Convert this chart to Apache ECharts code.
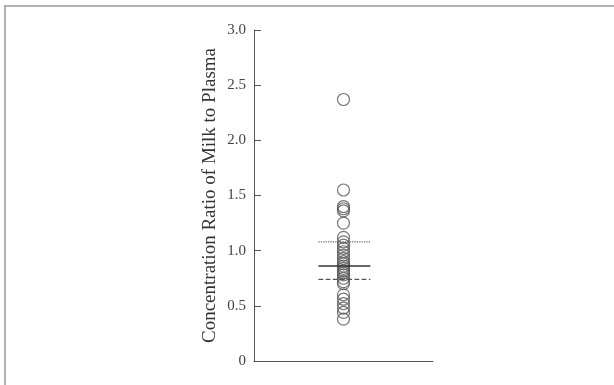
<!DOCTYPE html>
<html>
<head>
<meta charset="utf-8">
<script src="https://cdn.jsdelivr.net/npm/echarts@6/dist/echarts.min.js"></script>
<style>
  html, body { margin: 0; padding: 0; background: #fff; }
  #main { width: 614px; height: 385px; }
</style>
</head>
<body>
<div id="main"></div>
<script>
// ratio values, one column of points
var ratios = [2.37, 1.55, 1.40, 1.38, 1.36, 1.25, 1.12, 1.08, 1.05, 1.02, 0.99, 0.96,
  0.93, 0.90, 0.88, 0.86, 0.84, 0.82, 0.80, 0.78, 0.75, 0.72, 0.70,
  0.60, 0.56, 0.52, 0.48, 0.44, 0.38];
var upperQ = 1.08;
var median = 0.86;
var lowerQ = 0.74;
var yTicks = ['0', '0.5', '1.0', '1.5', '2.0', '2.5', '3.0'];

var chart = echarts.init(document.getElementById('main'), null, { renderer: 'canvas' });

var pts = ratios.map(function (v) { return [0.5, v]; });
function hline(v) { return [[0.36, v], [0.65, v]]; }

var option = {
  backgroundColor: '#fff',
  animation: false,
  textStyle: { fontFamily: 'Liberation Serif' },
  graphic: [
    { type: 'line', shape: { x1: 4, y1: 6, x2: 614, y2: 6 }, style: { stroke: '#999', lineWidth: 1.5 } },
    { type: 'line', shape: { x1: 5, y1: 6, x2: 5, y2: 385 }, style: { stroke: '#999', lineWidth: 1.5 } }
  ],
  grid: { left: 254, top: 30, width: 179, bottom: 24 },
  xAxis: {
    type: 'value', min: 0, max: 1,
    axisLine: { lineStyle: { color: '#555' } },
    axisTick: { show: false },
    axisLabel: { show: false },
    splitLine: { show: false }
  },
  yAxis: {
    type: 'value', min: 0, max: 3, interval: 0.5,
    name: 'Concentration Ratio of Milk to Plasma',
    nameLocation: 'middle', nameGap: 34,
    nameTextStyle: { fontFamily: 'Liberation Serif', fontSize: 19, color: '#333' },
    axisLine: { show: true, lineStyle: { color: '#555' } },
    axisTick: { show: true, inside: true, length: 7, lineStyle: { color: '#555' } },
    axisLabel: {
      margin: 8, fontFamily: 'Liberation Serif', fontSize: 15, color: '#444',
      formatter: function (v) { return yTicks[Math.round(v * 2)]; }
    },
    splitLine: { show: false }
  },
  series: [
    {
      type: 'scatter', data: pts, symbol: 'circle', symbolSize: 12,
      itemStyle: { color: 'rgba(0,0,0,0)', borderColor: '#555', borderWidth: 1.2 }
    },
    { type: 'line', data: hline(upperQ), symbol: 'none', lineStyle: { color: '#666', width: 1.2, type: 'dotted' } },
    { type: 'line', data: hline(median), symbol: 'none', lineStyle: { color: '#333', width: 1.5 } },
    { type: 'line', data: hline(lowerQ), symbol: 'none', lineStyle: { color: '#555', width: 1.2, type: 'dashed' } }
  ]
};

chart.setOption(option);
</script>
</body>
</html>
